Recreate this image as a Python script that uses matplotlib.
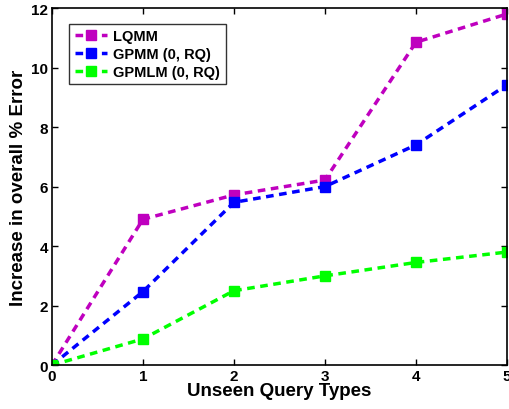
import numpy as np
import matplotlib
matplotlib.use("Agg")
import matplotlib.pyplot as plt

plt.rcParams['font.family'] = ['Liberation Sans', 'DejaVu Sans']
plt.rcParams['font.weight'] = 'bold'

# datos
x = [0, 1, 2, 3, 4, 5]
lqmm = [0, 4.9, 5.72, 6.22, 10.85, 11.8]
gpmm = [0, 2.47, 5.47, 6.0, 7.4, 9.42]
gpmlm = [0, 0.88, 2.5, 3.0, 3.45, 3.8]
labels = ['LQMM', 'GPMM (0, RQ)', 'GPMLM (0, RQ)']
colors = ['#BF00BF', '#0000FF', '#00FF00']

fig = plt.figure(figsize=(5.09, 4.10), dpi=100)
ax = fig.add_axes([0.102, 0.107, 0.894, 0.871])

for ys, lab, c in zip([lqmm, gpmm, gpmlm], labels, colors):
    ax.plot(x, ys, '--s', color=c, linewidth=2.5, markersize=7,
            dashes=(2.2, 1.6), label=lab)

ax.set_xlim(0, 5)
ax.set_ylim(0, 12)
ax.set_xticks(x)
ax.set_yticks([0, 2, 4, 6, 8, 10, 12])
ax.tick_params(direction='in', top=True, right=True, labelsize=11, length=4, width=1, pad=3)
for lbl in ax.get_xticklabels() + ax.get_yticklabels():
    lbl.set_fontweight('bold')
for s in ax.spines.values():
    s.set_linewidth(1.2)

ax.set_xlabel('Unseen Query Types', fontsize=13.5, fontweight='bold', labelpad=-1)
ax.set_ylabel('Increase in overall % Error', fontsize=13.5, fontweight='bold', labelpad=3)

leg = ax.legend(loc='upper left', bbox_to_anchor=(0.022, 0.977), fontsize=10.5,
                frameon=True, fancybox=False, edgecolor='black', handlelength=2.2,
                borderpad=0.4, labelspacing=0.25, handletextpad=0.4)
leg.get_frame().set_linewidth(1)
for t in leg.get_texts():
    t.set_fontweight('bold')

fig.savefig('out.png', dpi=100)
